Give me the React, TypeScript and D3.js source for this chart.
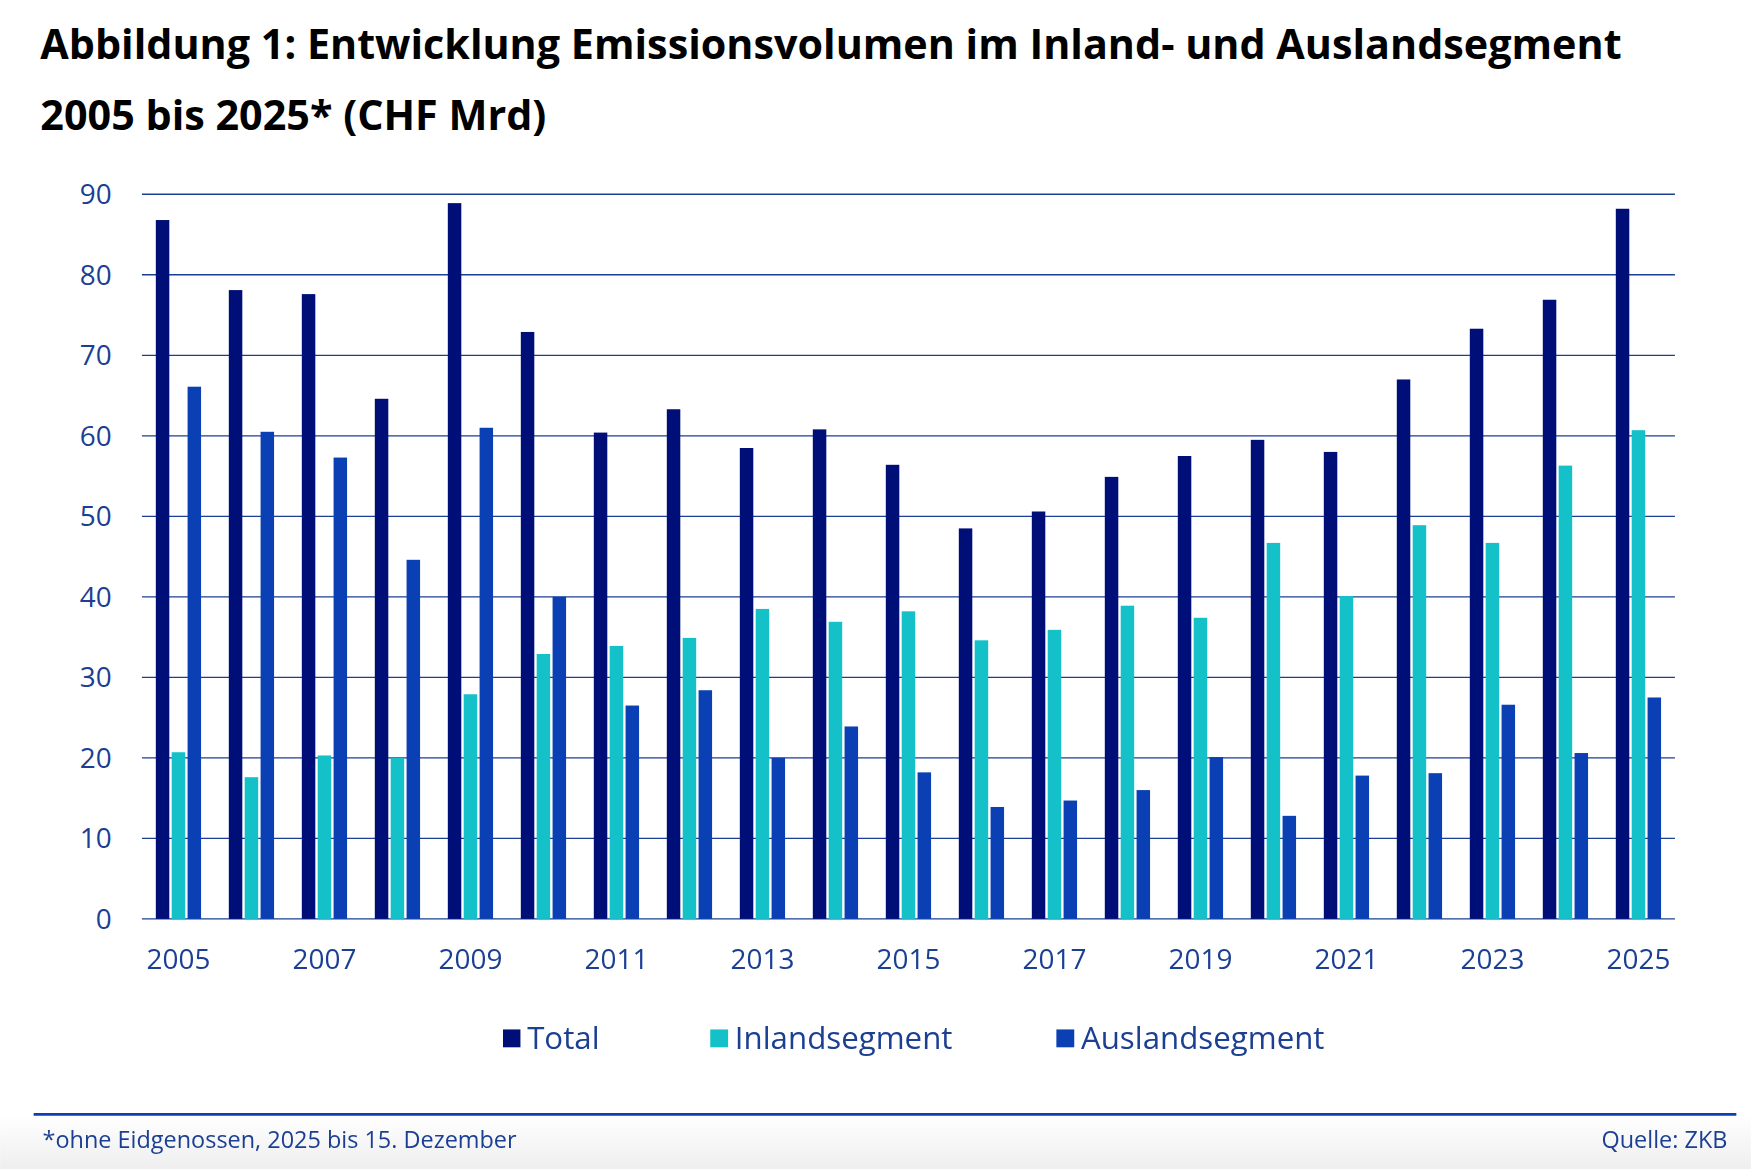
import * as React from "react";
import * as d3 from "d3";

const years = d3.range(2005, 2026).map(String);
const total = [86.8, 78.1, 77.6, 64.6, 88.9, 72.9, 60.4, 63.3, 58.5, 60.8, 56.4, 48.5, 50.6, 54.9, 57.5, 59.5, 58.0, 67.0, 73.3, 76.9, 88.2];
const inland = [20.7, 17.6, 20.3, 20.0, 27.9, 32.9, 33.9, 34.9, 38.5, 36.9, 38.2, 34.6, 35.9, 38.9, 37.4, 46.7, 40.1, 48.9, 46.7, 56.3, 60.7];
const ausland = [66.1, 60.5, 57.3, 44.6, 61.0, 40.0, 26.5, 28.4, 20.0, 23.9, 18.2, 13.9, 14.7, 16.0, 20.1, 12.8, 17.8, 18.1, 26.6, 20.6, 27.5];
const yTicks = [0, 10, 20, 30, 40, 50, 60, 70, 80, 90];

const series = [
  { name: "Total", values: total, color: "#000e78" },
  { name: "Inlandsegment", values: inland, color: "#14c1c9" },
  { name: "Auslandsegment", values: ausland, color: "#0a40b4" },
];

const W = 1568, H = 1047;
const TXT = "#1b3f93";
const FONT = "'Open Sans', 'Noto Sans', sans-serif";

export default function App() {
  const x = d3.scaleBand().domain(years).range([127, 1500]).paddingInner(0.38).paddingOuter(0.19);
  const sub = d3.scaleBand().domain(series.map((s) => s.name)).range([0, x.bandwidth()]).paddingInner(0.15);
  const y = d3.scaleLinear().domain([0, 90]).range([823, 174]);
  const legendX = [450, 636, 946];

  return (
    <svg width={1751} height={1169} viewBox={`0 0 ${W} ${H}`} style={{ position: "fixed", top: 0, left: 0 }} fontFamily={FONT}>
      <defs>
        <linearGradient id="foot" x1="0" y1="0" x2="0" y2="1">
          <stop offset="0" stopColor="#ffffff" />
          <stop offset="1" stopColor="#eeeeee" />
        </linearGradient>
      </defs>
      <rect width={W} height={H} fill="#fff" />
      <rect y={999} width={W} height={48} fill="url(#foot)" />
      <text x={36} y={53} fontSize={37} fontWeight={700} fill="#000">Abbildung 1: Entwicklung Emissionsvolumen im Inland- und Auslandsegment</text>
      <text x={36} y={116} fontSize={37} fontWeight={700} fill="#000">2005 bis 2025* (CHF Mrd)</text>

      {yTicks.map((t) => (
        <g key={t}>
          <line x1={127} x2={1500} y1={y(t)} y2={y(t)} stroke="#1b3f93" strokeWidth={1.2} />
          <text x={100} y={y(t)} dy="0.35em" textAnchor="end" fontSize={25} fill={TXT}>{t}</text>
        </g>
      ))}

      {years.map((yr, i) => (
        <g key={yr} transform={`translate(${x(yr)},0)`}>
          {series.map((s) => (
            <rect key={s.name} x={sub(s.name)} width={sub.bandwidth()} y={y(s.values[i])} height={y(0) - y(s.values[i])} fill={s.color} />
          ))}
          {i % 2 === 0 && (
            <text x={x.bandwidth() / 2} y={868} textAnchor="middle" fontSize={25} fill={TXT}>{yr}</text>
          )}
        </g>
      ))}

      {series.map((s, i) => (
        <g key={s.name} transform={`translate(${legendX[i]},930)`}>
          <rect x={0} y={-8} width={16} height={16} fill={s.color} />
          <text x={22} dy="0.35em" fontSize={28} fill={TXT}>{s.name}</text>
        </g>
      ))}

      <line x1={30} x2={1555} y1={998} y2={998} stroke="#0a40b4" strokeWidth={2.5} />
      <text x={38} y={1028} fontSize={21} fill={TXT}>*ohne Eidgenossen, 2025 bis 15. Dezember</text>
      <text x={1547} y={1028} fontSize={21} fill={TXT} textAnchor="end">Quelle: ZKB</text>
    </svg>
  );
}
